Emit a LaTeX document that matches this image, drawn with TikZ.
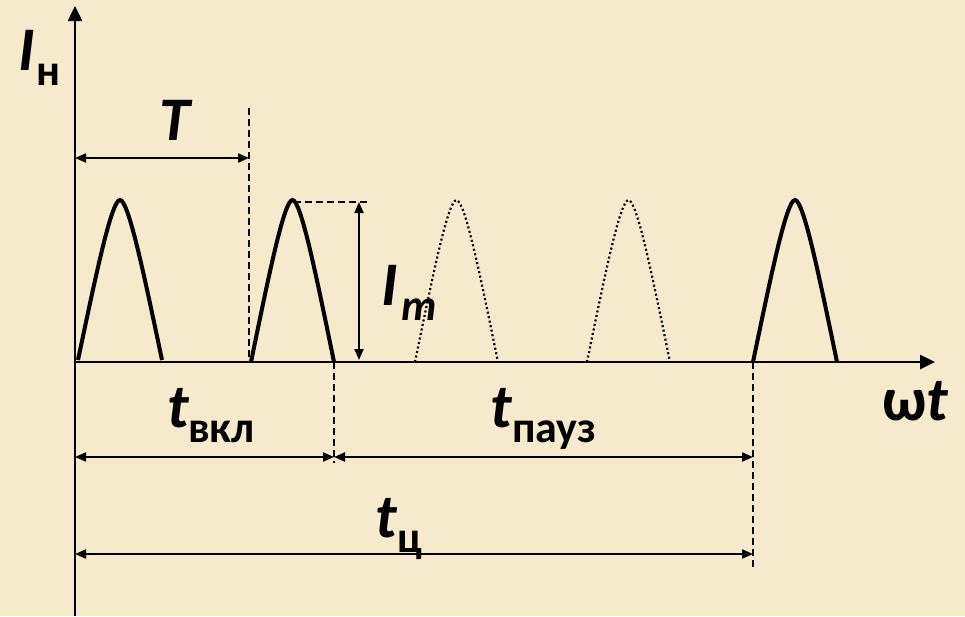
\documentclass[tikz,border=0pt]{standalone}
\usepackage{fontspec}
\setmainfont{Carlito}
\usetikzlibrary{arrows.meta}
\definecolor{bgcol}{RGB}{245,234,204}
\tikzset{
  axis/.style={line width=2.5pt,-{Triangle[length=15pt,width=14pt]}},
  dim/.style={line width=2pt,{Triangle[length=11pt,width=9pt]}-{Triangle[length=11pt,width=9pt]}},
  guide/.style={line width=1.6pt,dash pattern=on 7pt off 4pt},
  solidpulse/.style={line width=4pt},
  ghostpulse/.style={line width=2.2pt,dash pattern=on 2pt off 2.6pt},
  big/.style={font=\fontsize{62}{70}\selectfont\bfseries\itshape,inner sep=0pt},
  sub/.style={font=\fontsize{44}{50}\selectfont\bfseries,inner sep=0pt},
  subit/.style={font=\fontsize{44}{50}\selectfont\bfseries\itshape,inner sep=0pt},
}
\newcommand\mypulse[4]{% x0, width, base, style
  \draw[#4] (#1,#3) .. controls ({#1+0.22*#2},{#3-0.55*(#3-200)}) and ({#1+0.40*#2},200) .. ({#1+0.5*#2},200)
     .. controls ({#1+0.60*#2},200) and ({#1+0.78*#2},{#3-0.55*(#3-200)}) .. ({#1+#2},#3);}
\begin{document}
\begin{tikzpicture}[x=1pt,y=-1pt]
\useasboundingbox (0,0) rectangle (965,616);
\fill[bgcol] (0,0) rectangle (965,616);
% coordinates
\coordinate (o) at (75,362);
\coordinate (ytop) at (75,6);
\coordinate (ybot) at (75,616);
\coordinate (xend) at (935,362);
\coordinate (d1top) at (249,108);
\coordinate (d1bot) at (249,362);
\coordinate (Tl) at (75,158);
\coordinate (Tr) at (249,158);
\coordinate (pk) at (294,202);
\coordinate (pkr) at (369,202);
\coordinate (Imt) at (359,202);
\coordinate (Imb) at (359,360);
\coordinate (d2top) at (334,362);
\coordinate (d2bot) at (334,463);
\coordinate (d3top) at (753,362);
\coordinate (d3bot) at (753,567);
\coordinate (a1l) at (75,457);
\coordinate (a1r) at (334,457);
\coordinate (a2r) at (753,457);
\coordinate (a3l) at (75,554);
\coordinate (a3r) at (753,554);
% axes
\draw[axis] (ybot) -- (ytop);
\draw[axis] (o) -- (xend);
% pulses
\mypulse{78}{84}{360}{solidpulse}
\mypulse{251}{83}{362}{solidpulse}
\mypulse{415}{83}{362}{ghostpulse}
\mypulse{587}{83}{362}{ghostpulse}
\mypulse{753}{84}{362}{solidpulse}
% guides
\draw[guide] (d1top) -- (d1bot);
\draw[guide] (pk) -- (pkr);
\draw[guide] (d2top) -- (d2bot);
\draw[guide] (d3top) -- (d3bot);
% dimension arrows
\draw[dim] (Tl) -- (Tr);
\draw[dim] (Imt) -- (Imb);
\draw[dim] (a1l) -- (a1r);
\draw[dim] (a1r) -- (a2r);
\draw[dim] (a3l) -- (a3r);
% labels
\node[big,anchor=base] (IH) at (27,70) {I};
\node[sub,anchor=base west] (IHs) at (36,85) {н};
\node[big,anchor=base] (Tlab) at (175,140) {T};
\node[big,anchor=base] (Im) at (390,305) {I};
\node[subit,anchor=base] (Ims) at (419,320) {m};
\node[big,anchor=base] (t1) at (178,427) {t};
\node[sub,anchor=base west] (t1s) at (188,442) {вкл};
\node[big,anchor=base] (t2) at (501,427) {t};
\node[sub,anchor=base west] (t2s) at (512,442) {пауз};
\node[big,anchor=base] (t3) at (386,537) {t};
\node[sub,anchor=base west] (t3s) at (397,552) {ц};
\node[big,anchor=base] (wt) at (915,420) {\upshape ω\itshape t};
\end{tikzpicture}
\end{document}
